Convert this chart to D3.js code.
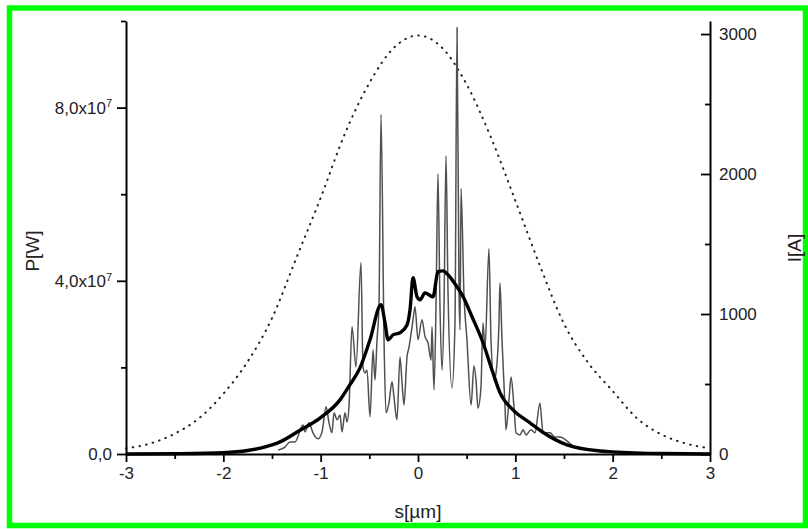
<!DOCTYPE html>
<html>
<head>
<meta charset="utf-8">
<script src="https://cdn.jsdelivr.net/npm/d3@7"></script>
<style>
	body { margin: 0; background: #fff; }
	svg { display: block; }
	text { font-family: "Liberation Sans", Arial, sans-serif; fill: #222; }
</style>
</head>
<body>
<svg width="808" height="529"></svg>
<script>
// s in µm, power in units of 1e7 W, current in A
const sTicks = [-3, -2, -1, 0, 1, 2, 3]
const sTickLabels = ["-3", "-2", "-1", "0", "1", "2", "3"]
const sMinor = [-2.5, -1.5, -0.5, 0.5, 1.5, 2.5]
const pTicks = [0, 4, 8]
const pTickLabels = ["0,0", "4,0x10", "8,0x10"]
const pTickExp = ["", "7", "7"]
const pMinor = [2, 6, 10]
const iTicks = [0, 1000, 2000, 3000]
const iTickLabels = ["0", "1000", "2000", "3000"]
const iMinor = [500, 1500, 2500]

// thin line: instantaneous power
const sThin = [-1.438, -1.366, -1.315, -1.264, -1.182, -1.161, -1.12, -1.079, -1.027, -0.986,
	-0.945, -0.914, -0.884, -0.863, -0.832, -0.801, -0.781, -0.75, -0.729, -0.709,
	-0.678, -0.637, -0.586, -0.565, -0.545, -0.524, -0.493, -0.462, -0.442, -0.421,
	-0.401, -0.38, -0.349, -0.329, -0.298, -0.267, -0.247, -0.216, -0.185, -0.164,
	-0.144, -0.113, -0.092, -0.051, -0.031, 0, 0.041, 0.072, 0.103, 0.134,
	0.144, 0.164, 0.185, 0.205, 0.226, 0.247, 0.267, 0.288, 0.308, 0.349,
	0.38, 0.401, 0.421, 0.432, 0.442, 0.473, 0.503, 0.545, 0.575, 0.596,
	0.616, 0.647, 0.668, 0.688, 0.729, 0.75, 0.781, 0.801, 0.832, 0.842,
	0.863, 0.894, 0.904, 0.935, 0.956, 0.986, 1.007, 1.048, 1.079, 1.11,
	1.161, 1.202, 1.253, 1.284, 1.356, 1.408, 1.459, 1.541, 1.613]
const pThin = [0.09, 0.16, 0.28, 0.28, 0.67, 0.51, 0.72, 0.49, 0.35, 0.51,
	1.09, 0.72, 0.49, 0.95, 0.79, 0.9, 0.51, 0.95, 0.74, 1.09,
	2.94, 2.01, 4.42, 2.01, 1.87, 1.94, 0.86, 2.41, 1.71, 2.64,
	3.4, 7.84, 2.64, 0.95, 1.18, 1.67, 1.32, 0.79, 2.24, 1.64,
	1.13, 2.24, 2.47, 3.1, 3.4, 2.64, 3.1, 2.71, 2.57, 2.17,
	2.94, 1.48, 3.4, 6.47, 3.4, 1.94, 3.4, 6.89, 3.79, 1.53,
	3.03, 9.85, 3.79, 2.87, 6.13, 3.63, 2.64, 1.13, 2.04, 1.71,
	1.06, 1.55, 3.03, 2.41, 4.74, 2.64, 1.71, 1.87, 3.03, 3.95,
	2.64, 1.09, 0.56, 1.25, 1.78, 1.09, 0.49, 0.44, 0.56, 0.44,
	0.56, 0.49, 1.18, 0.49, 0.49, 0.39, 0.39, 0.28, 0.14]

// thick line: averaged power
const sAvg = [-3, -2.5, -2, -1.75, -1.5, -1.417, -1.212, -1.007, -0.801, -0.699,
	-0.596, -0.493, -0.38, -0.339, -0.308, -0.257, -0.185, -0.113, -0.082, -0.051,
	-0.01, 0.021, 0.072, 0.154, 0.205, 0.257, 0.308, 0.401, 0.452, 0.555,
	0.668, 0.771, 0.843, 0.976, 1.151, 1.29, 1.53, 1.87, 2, 2.5, 3]
const pAvg = [0, 0.007, 0.03, 0.08, 0.21, 0.28, 0.55, 0.83, 1.25, 1.6,
	1.99, 2.64, 3.45, 3.03, 2.64, 2.75, 2.8, 2.98, 3.33, 4.07,
	3.63, 3.56, 3.72, 3.63, 4.21, 4.23, 4.14, 3.86, 3.68, 3.17,
	2.57, 1.87, 1.41, 1.02, 0.72, 0.49, 0.21, 0.07, 0.05, 0.01, 0]

// dotted line: current profile
const sDot = [-3, -2.75, -2.5, -2.25, -2, -1.75, -1.5, -1.25, -1, -0.75, -0.5, -0.25, 0,
	0.25, 0.5, 0.75, 1, 1.25, 1.5, 1.75, 2, 2.25, 2.5, 2.75, 3]
const iDot = [40, 75, 145, 255, 430, 660, 970, 1400, 1830, 2290, 2650, 2900, 2990,
	2900, 2640, 2260, 1810, 1350, 930, 650, 450, 255, 140, 75, 40]

const svg = d3.select("svg")
const margin = { top: 21, right: 98, bottom: 75, left: 126 }
const width = +svg.attr("width")
const height = +svg.attr("height")

// green frame
svg.append("rect")
	.attr("x", 9.5).attr("y", 8)
	.attr("width", 796).attr("height", 517.5)
	.attr("fill", "none")
	.attr("stroke", "#00ff00")
	.attr("stroke-width", 5.5)

const x = d3.scaleLinear().domain([-3, 3]).range([margin.left, width - margin.right])
const yP = d3.scaleLinear().domain([0, 10]).range([height - margin.bottom, margin.top])
const yI = d3.scaleLinear().domain([0, 3093]).range([height - margin.bottom, margin.top])

const zip = (a, b) => a.map((v, i) => [v, b[i]])

const plot = svg.append("g")

plot.append("path")
	.datum(zip(sDot, iDot))
	.attr("fill", "none")
	.attr("stroke", "#222")
	.attr("stroke-width", 2)
	.attr("stroke-linecap", "round")
	.attr("stroke-dasharray", "0.6,6.2")
	.attr("d", d3.line().x(d => x(d[0])).y(d => yI(d[1])).curve(d3.curveMonotoneX))

plot.append("path")
	.datum(zip(sThin, pThin))
	.attr("fill", "none")
	.attr("stroke", "#505050")
	.attr("stroke-width", 1.5)
	.attr("stroke-linejoin", "round")
	.attr("d", d3.line().x(d => x(d[0])).y(d => yP(d[1])).curve(d3.curveMonotoneX))

plot.append("path")
	.datum(zip(sAvg, pAvg))
	.attr("fill", "none")
	.attr("stroke", "#000")
	.attr("stroke-width", 3.4)
	.attr("stroke-linejoin", "round")
	.attr("d", d3.line().x(d => x(d[0])).y(d => yP(d[1])).curve(d3.curveMonotoneX))

// axes
const styleAxis = (g) => {
	g.attr("font-size", 17).attr("font-family", null)
	g.select(".domain").attr("stroke", "#000").attr("stroke-width", 2)
	g.selectAll(".tick line").attr("stroke", "#000").attr("stroke-width", 1.8)
	g.selectAll(".tick text").attr("fill", "#222")
}
const minor = (g) => {
	g.select(".domain").remove()
	g.selectAll(".tick line").attr("stroke", "#000").attr("stroke-width", 1.8)
}

const xAxisGroup = svg.append("g").attr("transform", `translate(0, ${yP(0)})`)
xAxisGroup.append("g").call(d3.axisBottom(x).tickValues(sMinor).tickSize(5).tickFormat("")).call(minor)
xAxisGroup.append("g")
	.call(d3.axisBottom(x).tickValues(sTicks).tickSize(8).tickSizeOuter(0).tickPadding(5)
		.tickFormat((d, i) => sTickLabels[i]))
	.call(styleAxis)

const yAxisGroup = svg.append("g").attr("transform", `translate(${margin.left}, 0)`)
yAxisGroup.append("g").call(d3.axisLeft(yP).tickValues(pMinor).tickSize(5).tickFormat("")).call(minor)
yAxisGroup.append("g")
	.call(d3.axisLeft(yP).tickValues(pTicks).tickSize(9).tickSizeOuter(0).tickPadding(5)
		.tickFormat((d, i) => pTickLabels[i]))
	.call(styleAxis)
	.selectAll(".tick text")
	.each(function (d, i) {
		if (!pTickExp[i]) return
		d3.select(this).append("tspan")
			.attr("dy", "-0.55em")
			.attr("font-size", 11)
			.text(pTickExp[i])
	})

const y2AxisGroup = svg.append("g").attr("transform", `translate(${width - margin.right}, 0)`)
y2AxisGroup.append("g").call(d3.axisRight(yI).tickValues(iMinor).tickSize(-5).tickFormat("")).call(minor)
y2AxisGroup.append("g")
	.call(d3.axisRight(yI).tickValues(iTicks).tickSize(-9).tickSizeOuter(0).tickPadding(9)
		.tickFormat((d, i) => iTickLabels[i]))
	.call(styleAxis)

// axis titles
svg.append("text")
	.attr("x", x(0)).attr("y", 518)
	.attr("text-anchor", "middle")
	.attr("font-size", 19)
	.text("s[µm]")

svg.append("text")
	.attr("transform", "translate(39, 251) rotate(-90)")
	.attr("text-anchor", "middle")
	.attr("font-size", 19)
	.text("P[W]")

svg.append("text")
	.attr("transform", "translate(801, 248) rotate(-90)")
	.attr("text-anchor", "middle")
	.attr("font-size", 19)
	.text("I[A]")
</script>
</body>
</html>
